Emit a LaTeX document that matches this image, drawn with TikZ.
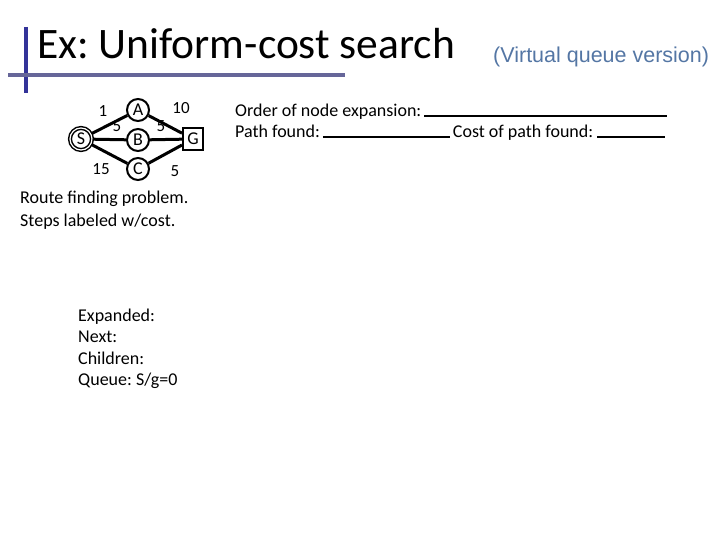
\documentclass[tikz,border=0pt]{standalone}
\usepackage{fontspec}
\setmainfont{Carlito}
\newfontfamily\arialfont{Liberation Sans}
\usetikzlibrary{positioning}
\definecolor{barblue}{RGB}{51,51,153}
\definecolor{lineblue}{RGB}{102,102,153}
\definecolor{vqblue}{RGB}{84,118,164}
\frenchspacing

\begin{document}
\begin{tikzpicture}[x=1pt, y=-1pt,
  state/.style={circle, draw, line width=2pt, minimum size=22pt, inner sep=0pt, font=\fontsize{18}{18}\selectfont},
  goal/.style={rectangle, draw, line width=2pt, minimum width=20pt, minimum height=22pt, inner sep=0pt, font=\fontsize{18}{18}\selectfont},
  edge/.style={line width=3pt},
  cost/.style={font=\fontsize{17}{17}\selectfont, inner sep=0pt},
  txt/.style={anchor=base west, inner sep=0pt, font=\fontsize{18}{21.3}\selectfont}
]
\useasboundingbox (0,0) rectangle (720,540);
% title with its bars
\draw[barblue, line width=4pt] (26,27) -- (26,93);
\draw[lineblue, line width=4pt] (8,75) -- (345,75);
\node[anchor=base west, inner sep=0pt, font=\fontsize{43.5}{43.5}\selectfont] (title) at (37,59) {Ex: Uniform-cost search};
\node[anchor=west, inner sep=0pt, text=vqblue, font=\arialfont\fontsize{21.5}{21.5}\selectfont] (vq) at (493,57) {(Virtual queue version)};
% the graph
\node[state, double, double distance=1.2pt, line width=1.5pt] (S) at (81,139) {S};
\node[state] (A) at (138,110) {A};
\node[state] (B) at (138,140) {B};
\node[state] (C) at (138,169) {C};
\node[goal] (G) at (193,139) {G};
\draw[edge] (S) -- (A);
\draw[edge] (S) -- (B);
\draw[edge] (S) -- (C);
\draw[edge] (A) -- (G);
\draw[edge] (B) -- (G);
\draw[edge] (C) -- (G);
\node[cost] (cSA) at (103,111) {1};
\node[cost] (cSB) at (117,126) {5};
\node[cost] (cAG) at (181,108) {10};
\node[cost] (cBG) at (161,126) {5};
\node[cost] (cSC) at (101,169) {15};
\node[cost] (cCG) at (175,171) {5};
\node[txt] (route) at (20,204) {Route finding problem.};
\node[txt] (steps) at (20,226) {Steps labeled w/cost.};
% the search state
\node[txt] (expanded) at (78,321) {Expanded:};
\node[txt] (next) at (78,342.5) {Next:};
\node[txt] (children) at (78,364) {Children:};
\node[txt] (queue) at (78,385) {Queue: S/g=0};
% the blanks to fill in
\node[txt] (order) at (235,117) {Order of node expansion:\hspace{3pt}\rule{243pt}{1.5pt}};
\node[txt] (path) at (235,138) {Path found:\hspace{3pt}\rule{127pt}{1.5pt}\hspace{3pt}Cost of path found:\hspace{4pt}\rule{68pt}{1.5pt}};
\end{tikzpicture}
\end{document}
